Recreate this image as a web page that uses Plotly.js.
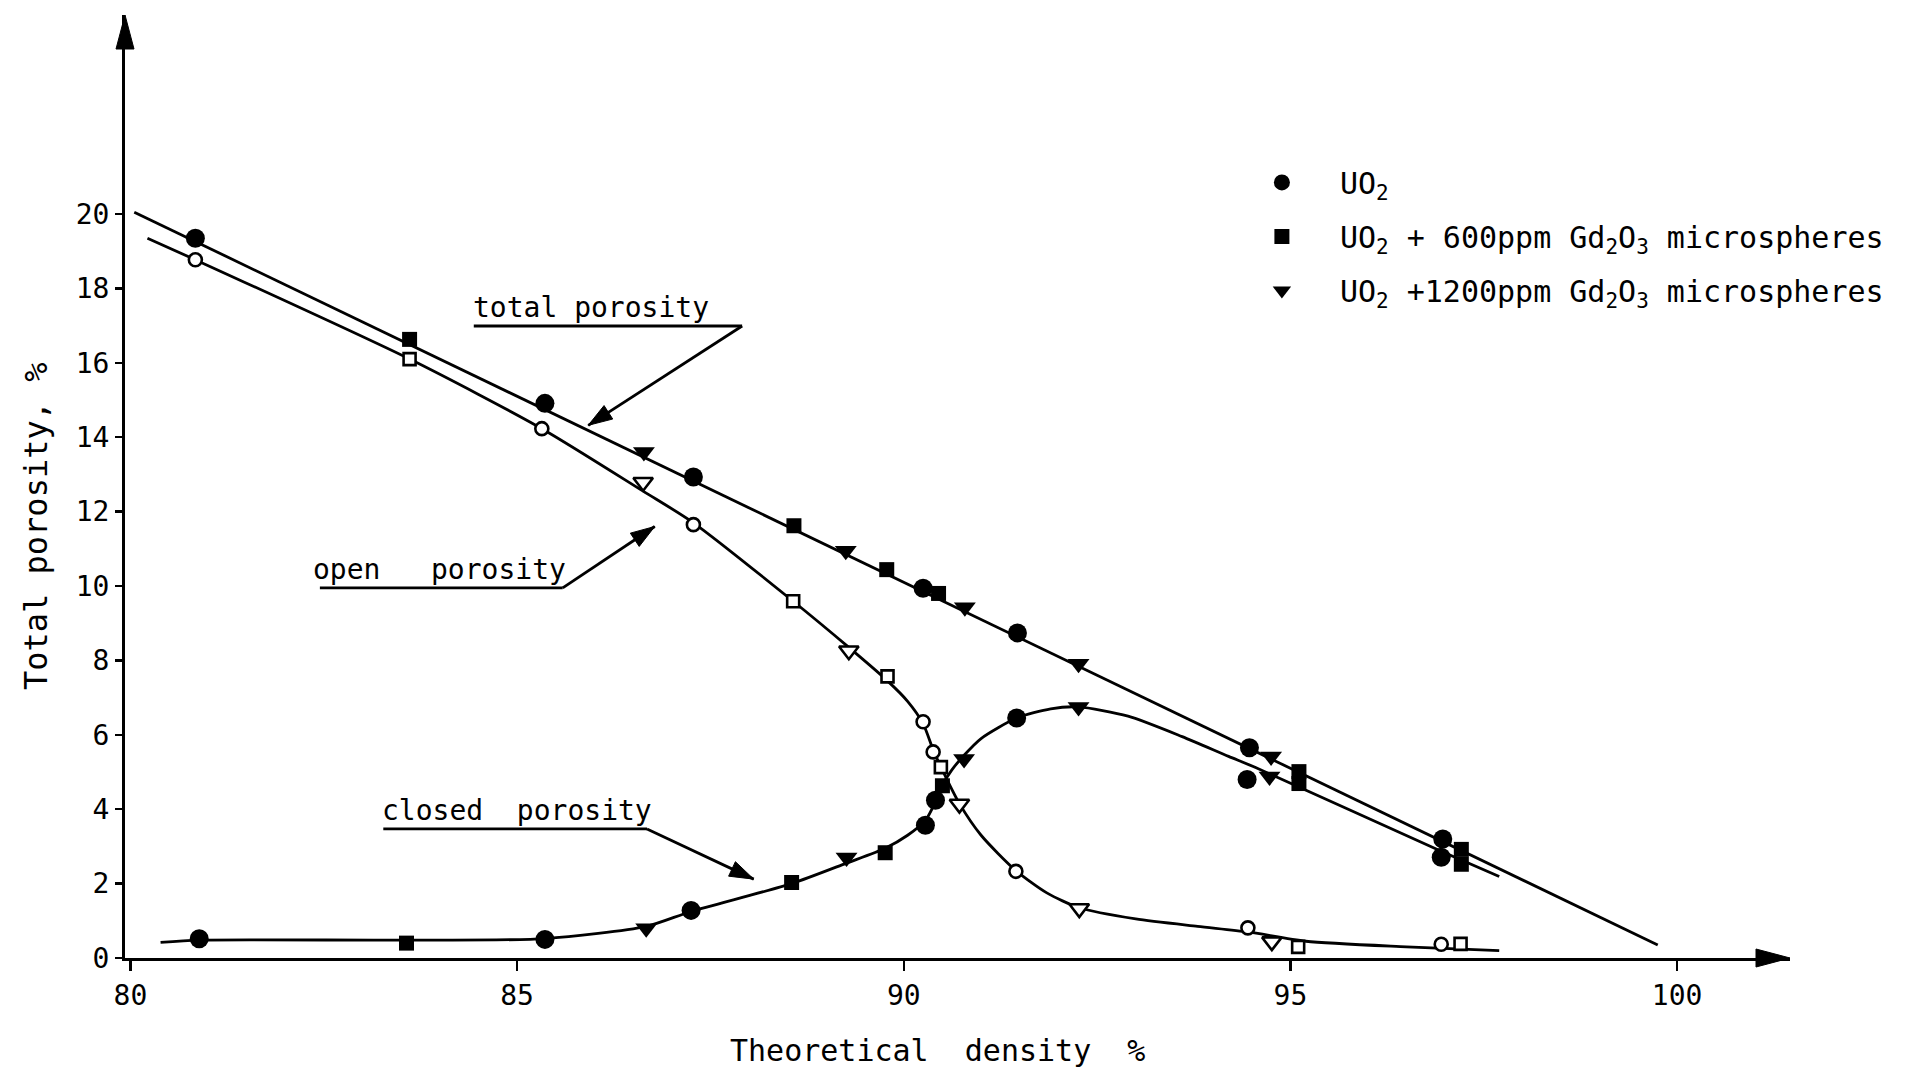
<!DOCTYPE html>
<html><head><meta charset="utf-8">
<script src="https://cdn.plot.ly/plotly-3.0.1.min.js"></script>
<style>html,body{margin:0;padding:0;background:#fff}#chart{width:1909px;height:1074px}</style>
</head><body><div id="chart"></div>
<script>
// ---- data (theoretical density %, porosity %) ----
const uo2TotalX = [80.84, 85.36, 87.28, 90.25, 91.47, 94.47, 96.97];
const uo2TotalY = [19.35, 14.91, 12.93, 9.94, 8.74, 5.65, 3.20];
const uo2OpenX = [80.84, 85.32, 87.28, 90.25, 90.38, 91.45, 94.45, 96.95];
const uo2OpenY = [18.77, 14.23, 11.65, 6.35, 5.54, 2.33, 0.81, 0.37];
const uo2ClosedX = [80.89, 85.36, 87.25, 90.28, 90.41, 91.46, 94.44, 96.95];
const uo2ClosedY = [0.52, 0.50, 1.28, 3.57, 4.24, 6.45, 4.80, 2.71];

const gd600TotalX = [83.61, 88.58, 89.78, 90.45, 95.11, 97.21];
const gd600TotalY = [16.63, 11.62, 10.44, 9.80, 5.01, 2.92];
const gd600OpenX = [83.61, 88.57, 89.79, 90.48, 95.10, 97.20];
const gd600OpenY = [16.10, 9.59, 7.57, 5.13, 0.30, 0.38];
const gd600ClosedX = [83.57, 88.55, 89.76, 90.50, 95.11, 97.21];
const gd600ClosedY = [0.40, 2.03, 2.83, 4.63, 4.69, 2.52];

const gd1200TotalX = [86.64, 89.25, 90.79, 92.26, 94.75];
const gd1200TotalY = [13.60, 10.95, 9.43, 7.91, 5.42];
const gd1200OpenX = [86.63, 89.29, 90.72, 92.27, 94.76];
const gd1200OpenY = [12.79, 8.26, 4.14, 1.33, 0.44];
const gd1200ClosedX = [86.67, 89.26, 90.78, 92.26, 94.73];
const gd1200ClosedY = [0.80, 2.70, 5.35, 6.75, 4.88];

// hand-drawn curves
const totalLineX = [80.05, 99.75];
const totalLineY = [20.05, 0.35];
const openCurveX = [80.22, 80.84, 83.61, 85.32, 86.63, 87.28, 88.57, 89.29, 89.79, 90.05, 90.25, 90.38, 90.50, 90.72, 91.00, 91.45, 91.85, 92.27, 93.00, 93.80, 94.45, 95.20, 96.50, 97.70];
const openCurveY = [19.35, 18.77, 16.10, 14.23, 12.55, 11.70, 9.59, 8.35, 7.45, 6.90, 6.30, 5.60, 5.05, 4.15, 3.30, 2.35, 1.75, 1.35, 1.05, 0.85, 0.70, 0.45, 0.30, 0.20];
const closedCurveX = [80.39, 80.89, 83.57, 85.36, 86.67, 87.25, 88.55, 89.26, 89.76, 90.05, 90.28, 90.41, 90.50, 90.62, 90.78, 91.00, 91.46, 91.90, 92.26, 92.90, 93.60, 94.20, 94.55, 96.95, 97.70];
const closedCurveY = [0.42, 0.48, 0.48, 0.52, 0.85, 1.25, 2.00, 2.55, 2.95, 3.30, 3.70, 4.20, 4.65, 5.05, 5.45, 5.90, 6.45, 6.70, 6.75, 6.50, 5.95, 5.42, 5.12, 2.87, 2.19];

const seriesNames = [
  'UO<sub>2</sub>',
  'UO<sub>2</sub> + 600ppm Gd<sub>2</sub>O<sub>3</sub> microspheres',
  'UO<sub>2</sub> +1200ppm Gd<sub>2</sub>O<sub>3</sub> microspheres'
];
const xTickVals = [80, 85, 90, 95, 100];
const yTickVals = [0, 2, 4, 6, 8, 10, 12, 14, 16, 18, 20];

// ---- styling ----
const INK = '#000';
const FONT = 'DejaVu Sans Mono, monospace';
const NB = '\u00A0';
const X_RANGE = [79.93, 101.46];
const Y_RANGE = [0, 25.35];
const MARGIN = {l: 125, r: 119, t: 15, b: 116};
const XPX = (1909 - MARGIN.l - MARGIN.r) / (X_RANGE[1] - X_RANGE[0]);
const YPX = (1074 - MARGIN.t - MARGIN.b) / (Y_RANGE[1] - Y_RANGE[0]);

function curve(x, y) {
  return {x, y, type: 'scatter', mode: 'lines', showlegend: false, hoverinfo: 'skip',
          line: {color: INK, width: 2.8, shape: 'spline', smoothing: 0.7}};
}
function pts(x, y, sym, size, hollow, name, group, legend) {
  return {x, y, type: 'scatter', mode: 'markers', name, legendgroup: group, showlegend: !!legend,
          marker: {symbol: sym, size, color: hollow ? '#fff' : INK,
                   line: {color: INK, width: hollow ? 2.6 : 0}}};
}

const traces = [
  curve(totalLineX, totalLineY),
  curve(openCurveX, openCurveY),
  curve(closedCurveX, closedCurveY),
  pts(uo2TotalX, uo2TotalY, 'circle', 19, false, seriesNames[0], 'g1', true),
  pts(uo2OpenX, uo2OpenY, 'circle', 13, true, seriesNames[0], 'g1', false),
  pts(uo2ClosedX, uo2ClosedY, 'circle', 19, false, seriesNames[0], 'g1', false),
  pts(gd600TotalX, gd600TotalY, 'square', 15, false, seriesNames[1], 'g2', true),
  pts(gd600OpenX, gd600OpenY, 'square', 12, true, seriesNames[1], 'g2', false),
  pts(gd600ClosedX, gd600ClosedY, 'square', 15, false, seriesNames[1], 'g2', false),
  pts(gd1200TotalX, gd1200TotalY, 'triangle-down', 19, false, seriesNames[2], 'g3', true),
  pts(gd1200OpenX, gd1200OpenY, 'triangle-down', 17, true, seriesNames[2], 'g3', false),
  pts(gd1200ClosedX, gd1200ClosedY, 'triangle-down', 19, false, seriesNames[2], 'g3', false)
];

function seg(x0, y0, x1, y1) {
  return {type: 'line', xref: 'x', yref: 'y', x0, y0, x1, y1, line: {color: INK, width: 2.8}};
}
// filled arrowhead drawn in pixel units around the tip
function head(xref, yref, tipX, tipY, dxPx, dyPx, L, W) {
  const len = Math.hypot(dxPx, dyPx);
  const ux = dxPx / len, uy = dyPx / len;
  const bx = -ux * L, by = -uy * L, nx = -uy, ny = ux;
  const f = v => v.toFixed(2);
  return {type: 'path', xref, yref, xsizemode: 'pixel', ysizemode: 'pixel',
          xanchor: tipX, yanchor: tipY,
          path: `M0,0 L${f(bx + nx * W)},${f(by + ny * W)} L${f(bx - nx * W)},${f(by - ny * W)} Z`,
          fillcolor: INK, line: {color: INK, width: 1}};
}
function pointer(tipX, tipY, tailX, tailY) {
  return [seg(tailX, tailY, tipX, tipY),
          head('x', 'y', tipX, tipY, (tipX - tailX) * XPX, (tipY - tailY) * YPX, 24, 8)];
}
function label(text, x, y) {
  return {x, y, xref: 'x', yref: 'y', text, showarrow: false, xanchor: 'center', yanchor: 'bottom',
          font: {family: FONT, size: 28, color: INK}};
}

const shapes = [
  seg(84.44, 16.99, 87.91, 16.99),
  seg(82.45, 9.95, 85.59, 9.95),
  seg(83.27, 3.47, 86.68, 3.47),
  ...pointer(85.92, 14.32, 87.91, 16.99),
  ...pointer(86.78, 11.6, 85.59, 9.95),
  ...pointer(88.06, 2.12, 86.68, 3.47),
  head('paper', 'paper', 0, 1, 0, 1, 34, 9),
  head('paper', 'paper', 1, 0, 1, 0, 34, 9)
];

const layout = {
  width: 1909, height: 1074,
  paper_bgcolor: '#fff', plot_bgcolor: '#fff',
  margin: MARGIN,
  font: {family: FONT, color: INK},
  xaxis: {
    range: X_RANGE, showgrid: false, zeroline: false, automargin: false,
    showline: true, linecolor: INK, linewidth: 3,
    tickmode: 'array', tickvals: xTickVals, ticks: 'outside', ticklen: 10, tickwidth: 2.5, tickcolor: INK,
    tickfont: {family: FONT, size: 28, color: INK}
  },
  yaxis: {
    range: Y_RANGE, showgrid: false, zeroline: false, automargin: false,
    showline: true, linecolor: INK, linewidth: 3,
    tickmode: 'array', tickvals: yTickVals, ticks: 'outside', ticklen: 7, tickwidth: 2.5, tickcolor: INK,
    tickfont: {family: FONT, size: 28, color: INK}
  },
  legend: {
    x: 0.660, y: 0.850, xanchor: 'left', yanchor: 'top',
    bgcolor: 'rgba(0,0,0,0)', borderwidth: 0,
    font: {family: FONT, size: 30, color: INK},
    itemwidth: 106, tracegroupgap: 12, itemsizing: 'trace'
  },
  shapes,
  annotations: [
    label('total' + NB + 'porosity', 85.95, 16.99),
    label('open' + NB + NB + NB + 'porosity', 84.0, 9.95),
    label('closed' + NB + NB + 'porosity', 85.0, 3.47),
    // axis titles placed where the reference has them
    {xref: 'paper', yref: 'paper', x: -0.0535, y: 0.458, xanchor: 'center', yanchor: 'middle',
     textangle: -90, showarrow: false, text: 'Total' + NB + 'porosity,' + NB + '%',
     font: {family: FONT, size: 32, color: INK}},
    {xref: 'paper', yref: 'paper', x: 0.488, y: -0.0976, xanchor: 'center', yanchor: 'middle',
     showarrow: false, text: 'Theoretical' + NB + NB + 'density' + NB + NB + '%',
     font: {family: FONT, size: 30, color: INK}}
  ]
};

Plotly.newPlot('chart', traces, layout, {displayModeBar: false, staticPlot: true});
</script>
</body></html>
